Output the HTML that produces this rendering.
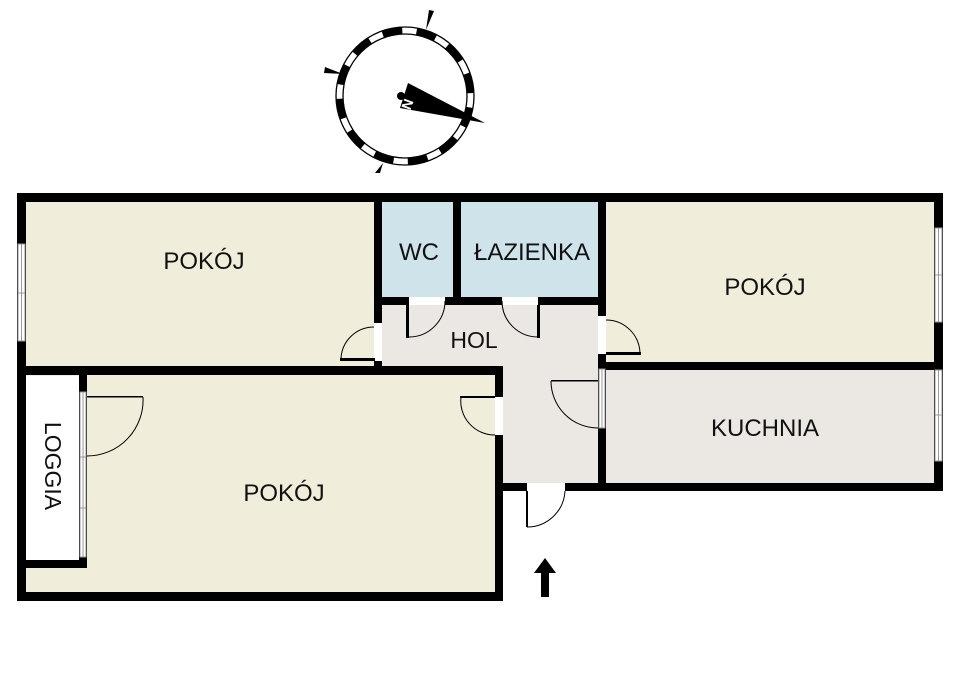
<!DOCTYPE html>
<html><head><meta charset="utf-8"><style>
html,body{margin:0;padding:0;background:#fff;width:960px;height:679px;overflow:hidden}
svg{display:block}
text{font-family:"Liberation Sans",sans-serif;fill:#111}
</style></head><body>
<svg width="960" height="679" viewBox="0 0 960 679" xmlns="http://www.w3.org/2000/svg">
<!-- floors -->
<rect x="26" y="202" width="348" height="164" fill="#f1eddb"/>
<rect x="382" y="202" width="71" height="95" fill="#cfe4ea"/>
<rect x="461" y="202" width="137" height="95" fill="#cfe4ea"/>
<rect x="382" y="305" width="216" height="61" fill="#ebe7e3"/>
<rect x="503" y="366" width="95" height="117" fill="#ebe7e3"/>
<rect x="606" y="202" width="328" height="160" fill="#f1eddb"/>
<rect x="606" y="370" width="328" height="113" fill="#ebe7e3"/>
<rect x="26" y="375" width="469" height="217" fill="#f1eddb"/>
<rect x="26" y="376" width="53" height="184" fill="#fff"/>
<!-- walls -->
<g fill="#000">
<rect x="17" y="193" width="926" height="9"/>
<rect x="17" y="193" width="9" height="408"/>
<rect x="934" y="193" width="9" height="298"/>
<rect x="17" y="592" width="486" height="9"/>
<rect x="495" y="366" width="8" height="235"/>
<rect x="17" y="366" width="486" height="9"/>
<rect x="374" y="193" width="8" height="182"/>
<rect x="453" y="193" width="8" height="112"/>
<rect x="374" y="297" width="232" height="8"/>
<rect x="598" y="193" width="8" height="298"/>
<rect x="598" y="362" width="345" height="8"/>
<rect x="495" y="483" width="448" height="8"/>
<rect x="79" y="366" width="8" height="202"/>
<rect x="17" y="560" width="70" height="8"/>
</g>
<!-- door gaps (openings) -->
<g fill="#fff">
<rect x="374" y="323" width="8" height="38"/>
<rect x="409" y="297" width="36" height="8"/>
<rect x="502" y="297" width="36" height="8"/>
<rect x="598" y="316" width="8" height="38"/>
<rect x="495" y="397" width="8" height="38"/>
<rect x="527" y="483" width="38" height="8"/>
</g>
<!-- windows -->
<g fill="#fff" stroke="#999" stroke-width="1">
<rect x="18" y="244" width="7" height="97"/>
<line x1="21.5" y1="244" x2="21.5" y2="341"/>
<line x1="18" y1="293" x2="25" y2="293"/>
<rect x="935" y="228" width="7" height="94"/>
<line x1="938.5" y1="228" x2="938.5" y2="322"/>
<line x1="935" y1="275" x2="942" y2="275"/>
<rect x="935" y="370" width="7" height="91"/>
<line x1="938.5" y1="370" x2="938.5" y2="461"/>
<line x1="935" y1="415" x2="942" y2="415"/>
<rect x="80" y="392" width="6" height="165"/>
<line x1="83" y1="392" x2="83" y2="557"/>
<line x1="80" y1="457" x2="86" y2="457"/>
<line x1="80" y1="508" x2="86" y2="508"/>
<rect x="599" y="369" width="6" height="59"/>
<line x1="602" y1="369" x2="602" y2="428"/>
</g>
<!-- doors -->
<g fill="none" stroke="#000" stroke-width="1">
<path d="M341 360 A33 33 0 0 1 374 327"/>
<path d="M409 337 A36 36 0 0 0 445 301"/>
<path d="M502 301 A36 36 0 0 0 538 337"/>
<path d="M606 320 A34 34 0 0 1 640 354"/>
<path d="M598 428 A47 47 0 0 1 551 381"/>
<path d="M495 435 A34 34 0 0 1 461 397"/>
<path d="M87 456 A56 56 0 0 0 143 397"/>
<path d="M527 527 A38 38 0 0 0 565 491"/>
</g>
<g fill="#000">
<rect x="340" y="358" width="35" height="3"/>
<rect x="406" y="305" width="3" height="33"/>
<rect x="537" y="305" width="3" height="33"/>
<rect x="606" y="352" width="35" height="3"/>
<rect x="551" y="380" width="47" height="1.5"/>
<rect x="460" y="396" width="35" height="2"/>
<rect x="87" y="396" width="56" height="1.5"/>
<rect x="526" y="491" width="2" height="36"/>
</g>
<!-- arrow -->
<polygon points="545,558 556,573 549,573 549,597 541,597 541,573 534,573" fill="#000"/>
<!-- labels -->
<text x="204" y="269" font-size="24" text-anchor="middle">POKÓJ</text>
<text x="419" y="260" font-size="24" text-anchor="middle">WC</text>
<text x="532" y="260" font-size="24" text-anchor="middle">ŁAZIENKA</text>
<text x="765" y="295" font-size="24" text-anchor="middle">POKÓJ</text>
<text x="474" y="348" font-size="23" text-anchor="middle">HOL</text>
<text x="765" y="436" font-size="24" text-anchor="middle">KUCHNIA</text>
<text x="284" y="501" font-size="24" text-anchor="middle">POKÓJ</text>
<text x="0" y="0" font-size="23" text-anchor="middle" transform="translate(45,466) rotate(90)">LOGGIA</text>
<!-- compass -->
<g transform="translate(405,96)">
<circle r="69" fill="none" stroke="#000" stroke-width="1.3"/>
<circle r="62" fill="none" stroke="#000" stroke-width="1.3"/>
<circle r="65.5" fill="none" stroke="#000" stroke-width="6.5" stroke-dasharray="20 14.3" transform="rotate(-20)"/>
<polygon points="24,-86 29,-85 21,-66" fill="#000"/>
<polygon points="-80,-29 -81,-23 -62,-22" fill="#000"/>
<polygon points="-30,77 -25,77 -22,67" fill="#000"/>
<polygon points="3,-13 -5,12 80,27" fill="#000"/>
<circle cx="-4" cy="0" r="4" fill="#000"/>
<text x="8" y="8" font-size="14" font-weight="bold" style="fill:#fff" transform="rotate(110 6 2)">N</text>
</g>
</svg>
</body></html>
